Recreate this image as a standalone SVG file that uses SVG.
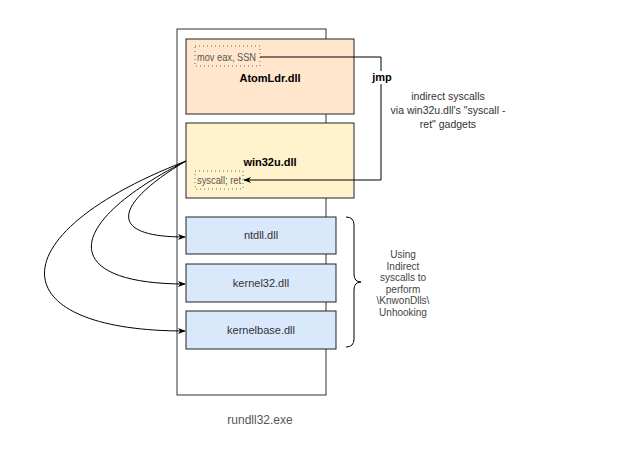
<svg xmlns="http://www.w3.org/2000/svg" width="642" height="462" viewBox="0 0 642 462">
<defs>
<style>
text{font-family:"Liberation Sans",Arial,sans-serif;}
.box{stroke:#222;stroke-width:1;}
.lbl{font-size:11px;fill:#333;text-anchor:middle;}
.bold{font-size:11px;font-weight:bold;fill:#000;text-anchor:middle;}
.code{font-size:10.5px;fill:#555;}
.dot{fill:none;stroke:#666;stroke-width:1;stroke-dasharray:1 3;}
.edge{fill:none;stroke:#000;stroke-width:1;}
.note{font-size:10px;fill:#444;text-anchor:middle;}
</style>
<marker id="arr" viewBox="0 0 10 10" refX="9" refY="5" markerWidth="8" markerHeight="8" markerUnits="userSpaceOnUse" orient="auto">
<path d="M0,1 L10,5 L0,9 L3,5 Z" fill="#000"/>
</marker>
</defs>
<rect width="642" height="462" fill="#fff"/>
<g id="rundll32">
<rect x="177" y="29" width="149" height="366" fill="#fff" stroke="#333" stroke-width="1"/>
<text x="260" y="424" class="lbl" style="font-size:12px;fill:#555">rundll32.exe</text>
</g>
<g id="atomldr">
<rect class="box" x="186" y="39" width="168" height="75" fill="#ffe6cc"/>
<rect class="dot" x="195" y="46" width="65" height="20"/>
<text x="197" y="61" class="code" textLength="59" lengthAdjust="spacingAndGlyphs">mov eax, SSN</text>
<text x="270" y="82" class="bold">AtomLdr.dll</text>
</g>
<g id="win32u">
<rect class="box" x="186" y="123" width="168" height="75" fill="#fff2cc"/>
<text x="270" y="166" class="bold">win32u.dll</text>
<rect class="dot" x="195" y="171" width="48" height="18"/>
<text x="197" y="184" class="code" textLength="44" lengthAdjust="spacingAndGlyphs">syscall; ret</text>
</g>
<g id="ntdll">
<rect class="box" x="186" y="217" width="150" height="37" fill="#dae8fc"/>
<text x="261" y="239" class="lbl">ntdll.dll</text>
</g>
<g id="kernel32">
<rect class="box" x="186" y="264" width="150" height="38" fill="#dae8fc"/>
<text x="261" y="287" class="lbl">kernel32.dll</text>
</g>
<g id="kernelbase">
<rect class="box" x="186" y="311" width="150" height="38" fill="#dae8fc"/>
<text x="261" y="334" class="lbl">kernelbase.dll</text>
</g>
<g id="note-indirect">
<text x="448" y="100" class="lbl" style="font-size:10.5px">indirect syscalls</text>
<text x="448" y="114" class="lbl" style="font-size:10.5px">via win32u.dll's "syscall -</text>
<text x="448" y="128" class="lbl" style="font-size:10.5px">ret" gadgets</text>
</g>
<g id="brace">
<path d="M346,217 Q354,217 354,225 L354,274 Q354,282 361,282 Q354,282 354,290 L354,339 Q354,347 346,347" fill="none" stroke="#000" stroke-width="1"/>
<text x="403" y="258" class="note">Using</text>
<text x="403" y="270" class="note">Indirect</text>
<text x="403" y="281" class="note">syscalls to</text>
<text x="403" y="293" class="note">perform</text>
<text x="403" y="304" class="note">\KnwonDlls\</text>
<text x="403" y="316" class="note">Unhooking</text>
</g>
<g id="connectors">
<path class="edge" d="M260,57 L381,57 L381,180 L244,180" marker-end="url(#arr)"/>
<rect x="372" y="71" width="20" height="13" fill="#fff"/>
<text x="382" y="81" class="bold">jmp</text>
<path class="edge" d="M186,161 C120,200 100,237 185,237" marker-end="url(#arr)"/>
<path class="edge" d="M186,161 C60,225 60,284 185,284" marker-end="url(#arr)"/>
<path class="edge" d="M186,161 C-5,235 0,331 185,331" marker-end="url(#arr)"/>
</g>
</svg>
